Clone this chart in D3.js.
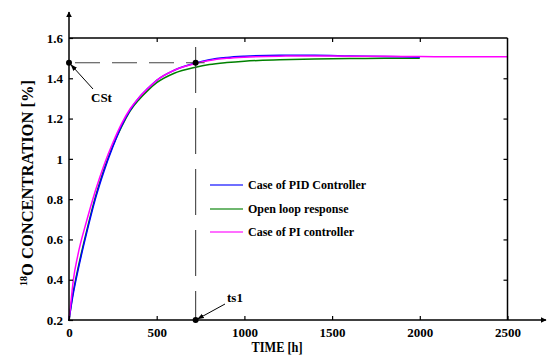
<!DOCTYPE html>
<html><head><meta charset="utf-8">
<script src="https://cdn.jsdelivr.net/npm/d3@7"></script>
<style>
html,body{margin:0;padding:0;background:#fff;}
svg text{font-family:"Liberation Serif","Times New Roman",serif;font-weight:bold;fill:#000;}
</style></head>
<body><svg id="c" width="547" height="356"></svg>
<script>
// ---- data ----
const xTickVals = [0, 500, 1000, 1500, 2000, 2500];
const xTickLabels = ["0", "500", "1000", "1500", "2000", "2500"];
const yTickVals = [0.2, 0.4, 0.6, 0.8, 1.0, 1.2, 1.4, 1.6];
const yTickLabels = ["0.2", "0.4", "0.6", "0.8", "1", "1.2", "1.4", "1.6"];

const pidT = [0, 20, 40, 70, 100, 150, 200, 250, 300, 350, 400, 450, 500, 600, 722, 800, 900, 1000, 1200, 1400, 1600, 1800, 2000];
const pidV = [0.2, 0.31, 0.40, 0.52, 0.63, 0.80, 0.94, 1.06, 1.165, 1.245, 1.305, 1.35, 1.39, 1.44, 1.476, 1.492, 1.503, 1.509, 1.514, 1.514, 1.511, 1.508, 1.505];

const openT = [0, 20, 40, 70, 100, 150, 200, 250, 300, 350, 400, 450, 500, 600, 722, 800, 900, 1000, 1200, 1400, 1600, 1800, 2000];
const openV = [0.2, 0.32, 0.41, 0.53, 0.64, 0.81, 0.95, 1.065, 1.16, 1.24, 1.295, 1.34, 1.378, 1.425, 1.455, 1.468, 1.478, 1.485, 1.492, 1.496, 1.498, 1.499, 1.5];

const piT = [0, 10, 25, 50, 100, 150, 200, 250, 300, 350, 400, 450, 500, 600, 722, 800, 900, 1000, 1200, 1400, 1600, 1800, 2000, 2200, 2500];
const piV = [0.2, 0.28, 0.40, 0.52, 0.69, 0.84, 0.97, 1.08, 1.175, 1.25, 1.305, 1.35, 1.39, 1.44, 1.473, 1.488, 1.499, 1.505, 1.51, 1.511, 1.51, 1.509, 1.508, 1.507, 1.507];

const seriesNames = ["Case of PID Controller", "Open loop response", "Case of PI controller"];
const seriesColors = ["#0000ff", "#008000", "#ff00ff"];

const tsTime = 722;       // ts1
const cstValue = 1.477;   // CSt

// ---- layout ----
const svg = d3.select("#c");
const L = 69, R = 507.5, T = 38, B = 320;
const x = d3.scaleLinear().domain([0, 2500]).range([L, R]);
const y = d3.scaleLinear().domain([0.2, 1.6]).range([B, T]);

// series
const series = [
  {t: pidT, v: pidV},
  {t: openT, v: openV},
  {t: piT, v: piV}
];
const line = d3.line().x(d => x(d[0])).y(d => y(d[1])).curve(d3.curveMonotoneX);
const drawOrder = [1, 0, 2];
drawOrder.forEach(i => {
  const s = series[i];
  svg.append("path")
    .attr("d", line(s.t.map((t, k) => [t, s.v[k]])))
    .attr("fill", "none").attr("stroke", seriesColors[i]).attr("stroke-width", 1.5);
});

// frame: top & right
svg.append("line").attr("x1", L).attr("x2", R).attr("y1", T).attr("y2", T).attr("stroke", "#000").attr("stroke-width", 1.3);
svg.append("line").attr("x1", R).attr("x2", R).attr("y1", T).attr("y2", B).attr("stroke", "#000").attr("stroke-width", 1.5);

// axes
const xAxis = svg.append("g").attr("transform", `translate(0,${B})`)
  .call(d3.axisBottom(x).tickValues(xTickVals).tickFormat((d, i) => xTickLabels[i]).tickSize(-4).tickSizeOuter(0).tickPadding(8));
const yAxis = svg.append("g").attr("transform", `translate(${L},0)`)
  .call(d3.axisLeft(y).tickValues(yTickVals).tickFormat((d, i) => yTickLabels[i]).tickSize(-4).tickSizeOuter(0).tickPadding(6));
const xTop = svg.append("g").attr("transform", `translate(0,${T})`)
  .call(d3.axisTop(x).tickValues(xTickVals.slice(1, -1)).tickFormat("").tickSize(-4).tickSizeOuter(0));
const yRight = svg.append("g").attr("transform", `translate(${R},0)`)
  .call(d3.axisRight(y).tickValues(yTickVals.slice(1, -1)).tickFormat("").tickSize(-4).tickSizeOuter(0));
[xAxis, yAxis, xTop, yRight].forEach(g => {
  g.select(".domain").remove();
  g.selectAll("line").attr("stroke", "#000").attr("stroke-width", 1.2);
  g.selectAll("text").attr("font-family", "Liberation Serif").attr("font-weight", "bold").attr("font-size", 13).attr("fill", "#000");
});

// main axis lines with arrows
svg.append("defs").html(`
  <marker id="ah" viewBox="0 0 10 10" refX="9" refY="5" markerWidth="6" markerHeight="6" orient="auto-start-reverse" markerUnits="userSpaceOnUse">
    <path d="M0,0 L10,5 L0,10 z" fill="#000"/></marker>
  <marker id="ah2" viewBox="0 0 10 10" refX="9" refY="5" markerWidth="7" markerHeight="7" orient="auto" markerUnits="userSpaceOnUse">
    <path d="M0,1.5 L10,5 L0,8.5 z" fill="#000"/></marker>`);
svg.append("line").attr("x1", L).attr("x2", L).attr("y1", B + 1).attr("y2", 12)
  .attr("stroke", "#000").attr("stroke-width", 1.5).attr("marker-end", "url(#ah)");
svg.append("line").attr("x1", L - 1).attr("x2", 546).attr("y1", B).attr("y2", B)
  .attr("stroke", "#000").attr("stroke-width", 1.5).attr("marker-end", "url(#ah)");

// dashed guide lines
svg.append("line").attr("x1", L).attr("x2", x(tsTime) + 9).attr("y1", y(cstValue)).attr("y2", y(cstValue))
  .attr("stroke", "#444").attr("stroke-width", 1.1).attr("stroke-dasharray", "25,12").attr("stroke-dashoffset", -6);
svg.append("line").attr("x1", x(tsTime)).attr("x2", x(tsTime)).attr("y1", 47).attr("y2", B)
  .attr("stroke", "#444").attr("stroke-width", 1.1).attr("stroke-dasharray", "46,15");

// dots
[[0, cstValue], [tsTime, cstValue], [tsTime, 0.2]].forEach(p => {
  svg.append("circle").attr("cx", x(p[0])).attr("cy", y(p[1])).attr("r", 3).attr("fill", "#000");
});

// annotations
svg.append("line").attr("x1", 93).attr("y1", 89).attr("x2", x(0) + 2).attr("y2", y(cstValue) + 2)
  .attr("stroke", "#000").attr("stroke-width", 1).attr("marker-end", "url(#ah2)");
svg.append("text").attr("x", 91).attr("y", 102).attr("font-size", 13).text("CSt");
svg.append("line").attr("x1", 225).attr("y1", 304).attr("x2", x(tsTime) + 2).attr("y2", B - 1)
  .attr("stroke", "#000").attr("stroke-width", 1).attr("marker-end", "url(#ah2)");
svg.append("text").attr("x", 227).attr("y", 302).attr("font-size", 13).text("ts1");

// legend
const legY = [185, 209, 232];
seriesNames.forEach((n, i) => {
  svg.append("line").attr("x1", 210).attr("x2", 243).attr("y1", legY[i]).attr("y2", legY[i])
    .attr("stroke", seriesColors[i]).attr("stroke-width", 1.5).attr("opacity", 0.75);
  svg.append("text").attr("x", 248).attr("y", legY[i] + 4).attr("font-size", 12).text(n);
});

// axis titles
svg.append("text").attr("x", 277).attr("y", 352).attr("text-anchor", "middle").attr("font-size", 15)
  .attr("textLength", 51).attr("lengthAdjust", "spacingAndGlyphs").text("TIME [h]");
const yl = svg.append("text").attr("transform", "translate(33,183) rotate(-90)").attr("text-anchor", "middle").attr("font-size", 16.5);
yl.append("tspan").attr("font-size", 10).attr("dy", -6).text("18");
yl.append("tspan").attr("dy", 6).text("O CONCENTRATION [%]");
</script></body></html>
